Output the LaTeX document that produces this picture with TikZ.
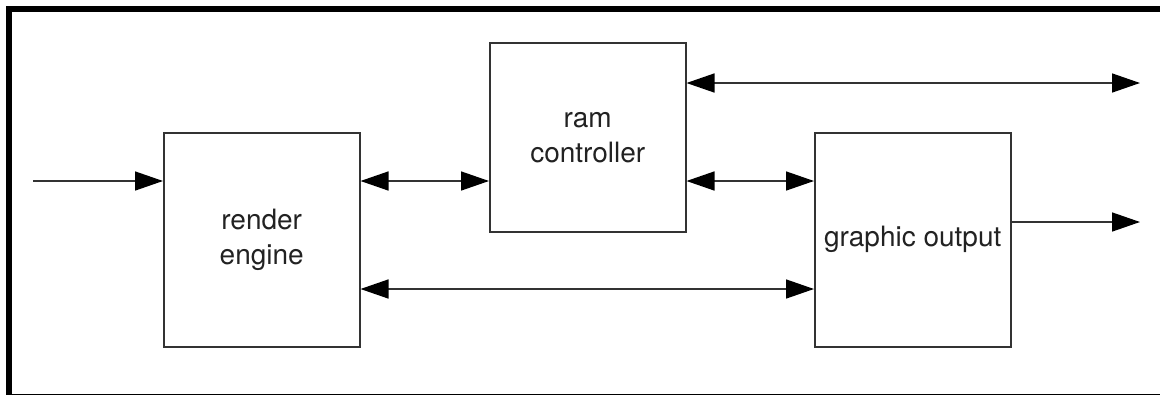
\documentclass[tikz,border=0pt]{standalone}
\usepackage{fontspec}
\setmainfont{TeX Gyre Heros}
\usetikzlibrary{arrows.meta}
\definecolor{edge}{HTML}{333333}
\definecolor{ink}{HTML}{222222}
\tikzset{
  block/.style={draw=edge, line width=1.5pt, fill=white, inner sep=0pt,
    text=ink, font=\fontsize{28}{35}\selectfont, align=center, anchor=north west},
  link/.style={draw=edge, line width=1.5pt},
  head/.style={Triangle[length=28pt,width=19pt,color=black]},
  tip/.style={-{Triangle[length=28pt,width=19pt,color=black]}},
  tips/.style={{Triangle[length=28pt,width=19pt,color=black]}-{Triangle[length=28pt,width=19pt,color=black]}},
}
\begin{document}
\begin{tikzpicture}[x=1pt,y=-1pt]
  \useasboundingbox (0,0) rectangle (1160,394);
  \begin{scope}
    \clip (0,0) rectangle (1160,394);
    % heavy frame around the whole drawing
    \draw[line width=6pt, black] (9,9) rectangle (1175,397);
  \end{scope}

  \node[block, minimum width=196pt, minimum height=214pt] (render) at (163,132) {render\\engine};
  \node[block, minimum width=196pt, minimum height=189pt] (ram) at (489,42) {ram\\controller};
  \node[block, minimum width=196pt, minimum height=214pt] (gfx) at (814,132) {graphic output};

  \coordinate (in) at (33,181);
  \coordinate (bus) at (1140,83);
  \coordinate (out) at (1140,222);

  \draw[link, tip] (in) -- (render.west |- in);
  \draw[link, tips] (render.east |- in) -- (ram.west |- in);
  \draw[link, tips] (ram.east |- bus) -- (bus);
  \draw[link, tips] (ram.east |- in) -- (gfx.west |- in);
  \draw[link, tips] (render.east |- 0,289) -- (gfx.west |- 0,289);
  \draw[link, tip] (gfx.east |- out) -- (out);
\end{tikzpicture}
\end{document}
